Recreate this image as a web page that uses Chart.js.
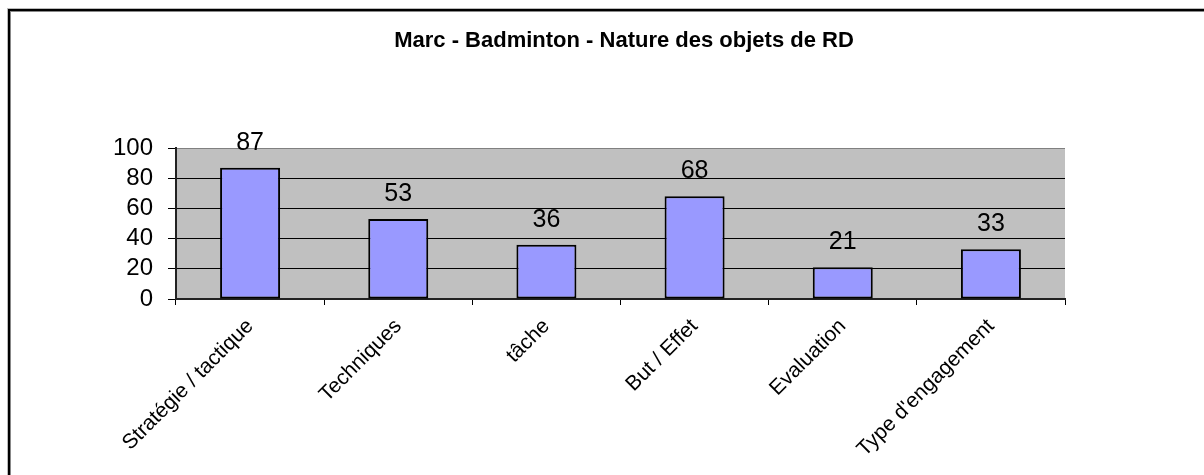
<!DOCTYPE html>
<html>
<head>
<meta charset="utf-8">
<script src="https://cdn.jsdelivr.net/npm/chart.js@4/dist/chart.umd.min.js"></script>
<style>
  html, body { margin: 0; padding: 0; background: #fff; overflow: hidden; }
  body { width: 1204px; height: 475px; position: relative; }
  #frame {
    position: absolute; left: 8px; top: 9px; width: 1300px; height: 600px;
    border-top: 2px solid #000; border-left: 2px solid #000;
    box-shadow: inset 1px 1px 0 #888, -1px -1px 0 #bbb;
  }
  #wrap { position: absolute; left: 0; top: 0; width: 1248px; height: 475px; }
</style>
</head>
<body>
<div id="frame"></div>
<div id="wrap"><canvas id="c" width="1248" height="475"></canvas></div>
<script>
const categories = ['Stratégie / tactique', 'Techniques', 'tâche', 'But / Effet', 'Evaluation', "Type d'engagement"];
const counts = [87, 53, 36, 68, 21, 33];
const yTicks = [0, 20, 40, 60, 80, 100];
const chartTitle = 'Marc - Badminton - Nature des objets de RD';

const FONT = '"Liberation Sans", Arial, sans-serif';

// grey plot background
const plotBackground = {
  id: 'plotBackground',
  beforeDraw(chart) {
    const { ctx, chartArea: a } = chart;
    ctx.save();
    ctx.fillStyle = '#C0C0C0';
    ctx.fillRect(a.left, a.top, a.right - a.left, a.bottom - a.top);
    ctx.restore();
  }
};

// chart title, centred on the whole chart frame
const frameTitle = {
  id: 'frameTitle',
  afterDraw(chart) {
    const { ctx } = chart;
    ctx.save();
    ctx.font = 'bold 22px ' + FONT;
    ctx.fillStyle = '#000';
    ctx.textAlign = 'center';
    ctx.textBaseline = 'middle';
    ctx.fillText(chartTitle, chart.width / 2, 41);
    ctx.restore();
  }
};

// value written above each bar
const valueLabels = {
  id: 'valueLabels',
  afterDatasetsDraw(chart) {
    const { ctx } = chart;
    const meta = chart.getDatasetMeta(0);
    ctx.save();
    ctx.font = '25px ' + FONT;
    ctx.fillStyle = '#000';
    ctx.textAlign = 'center';
    ctx.textBaseline = 'alphabetic';
    meta.data.forEach((bar, i) => {
      ctx.fillText(String(counts[i]), bar.x, bar.y - 18);
    });
    ctx.restore();
  }
};

new Chart(document.getElementById('c'), {
  type: 'bar',
  data: {
    labels: categories,
    datasets: [{
      data: counts,
      backgroundColor: '#9999FF',
      borderColor: '#000',
      borderWidth: 2,
      borderSkipped: false,
      barPercentage: 0.405,
      categoryPercentage: 1
    }]
  },
  options: {
    responsive: false,
    animation: false,
    events: [],
    layout: { padding: { left: 0, right: 183, top: 148, bottom: 0 } },
    plugins: {
      legend: { display: false },
      tooltip: { enabled: false },
      title: { display: false }
    },
    scales: {
      x: {
        offset: true,
        grid: {
          offset: true,
          drawOnChartArea: true,
          color: (c) => (c.index === categories.length ? '#808080' : 'rgba(0,0,0,0)'),
          tickColor: '#000',
          tickLength: 6,
          lineWidth: 1
        },
        border: { display: true, color: '#222', width: 2 },
        ticks: {
          color: '#000',
          font: { family: FONT, size: 21 },
          maxRotation: 45,
          minRotation: 45,
          padding: 9,
          autoSkip: false
        },
        afterFit(scale) { scale.height = 176; }
      },
      y: {
        min: 0,
        max: 100,
        afterBuildTicks(scale) { scale.ticks = yTicks.map(v => ({ value: v })); },
        grid: {
          color: (c) => (c.tick && c.tick.value === 100 ? '#808080' : '#000'),
          tickColor: '#000',
          tickLength: 8,
          lineWidth: 1
        },
        border: { display: true, color: '#222', width: 2 },
        ticks: {
          color: '#000',
          font: { family: FONT, size: 24 },
          padding: 15,
          autoSkip: false
        },
        afterFit(scale) { scale.width = 176; }
      }
    }
  },
  plugins: [plotBackground, valueLabels, frameTitle]
});
</script>
</body>
</html>
